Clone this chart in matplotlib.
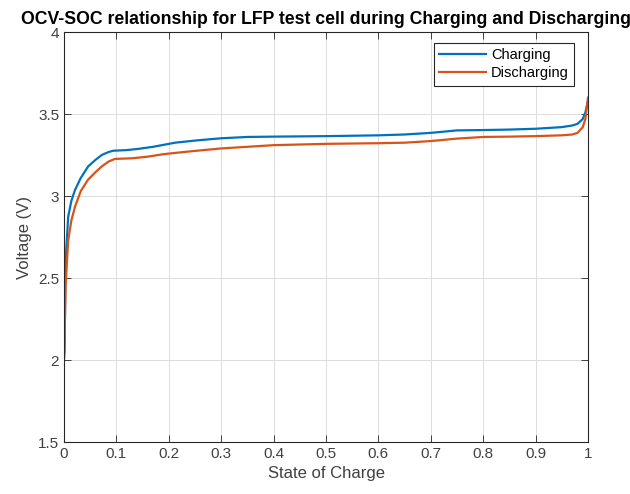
import matplotlib
matplotlib.use("Agg")
import matplotlib.pyplot as plt

plt.rcParams['font.family'] = ['Liberation Sans', 'DejaVu Sans']

soc_chg = [0.0, 0.001, 0.003, 0.008, 0.014, 0.021, 0.032, 0.046, 0.06, 0.072, 0.085, 0.094, 0.12, 0.141, 0.17,
           0.212, 0.25, 0.3, 0.35, 0.4, 0.5, 0.6, 0.65, 0.7, 0.75, 0.8, 0.85, 0.9, 0.95, 0.97, 0.98, 0.99, 0.995, 1.0]
v_chg = [2.0, 2.05, 2.6, 2.874, 2.97, 3.037, 3.11, 3.18, 3.22, 3.25, 3.268, 3.276, 3.28, 3.287, 3.30,
         3.325, 3.338, 3.352, 3.36, 3.362, 3.365, 3.37, 3.375, 3.385, 3.40, 3.402, 3.405, 3.41, 3.42, 3.43, 3.44, 3.47, 3.51, 3.58]

soc_dis = [0.0, 0.001, 0.003, 0.008, 0.014, 0.021, 0.032, 0.046, 0.06, 0.072, 0.085, 0.097, 0.13, 0.16, 0.19,
           0.21, 0.25, 0.3, 0.35, 0.4, 0.5, 0.6, 0.65, 0.7, 0.75, 0.8, 0.85, 0.9, 0.95, 0.97, 0.98, 0.99, 0.995, 1.0]
v_dis = [2.05, 2.1, 2.45, 2.73, 2.85, 2.935, 3.03, 3.10, 3.145, 3.18, 3.21, 3.226, 3.23, 3.24, 3.255,
         3.262, 3.275, 3.29, 3.30, 3.31, 3.318, 3.322, 3.325, 3.335, 3.35, 3.36, 3.362, 3.365, 3.37, 3.375, 3.385, 3.42, 3.47, 3.60]

x_ticks = [0, 0.1, 0.2, 0.3, 0.4, 0.5, 0.6, 0.7, 0.8, 0.9, 1]
x_labels = ['0', '0.1', '0.2', '0.3', '0.4', '0.5', '0.6', '0.7', '0.8', '0.9', '1']
y_ticks = [1.5, 2, 2.5, 3, 3.5, 4]
y_labels = ['1.5', '2', '2.5', '3', '3.5', '4']

fig = plt.figure(figsize=(6.3, 4.94), dpi=100)
ax = fig.add_axes([64/630, 1 - 442/494, 524/630, 410/494])

ax.plot(soc_chg, v_chg, color='#0072BD', lw=1.6, label='Charging')
ax.plot(soc_dis, v_dis, color='#D95319', lw=1.6, label='Discharging')

ax.set_xlim(0, 1)
ax.set_ylim(1.5, 4)
ax.set_xticks(x_ticks)
ax.set_xticklabels(x_labels)
ax.set_yticks(y_ticks)
ax.set_yticklabels(y_labels)
ax.tick_params(direction='in', length=5, colors='#262626', labelsize=11, top=True, right=True,
               labeltop=False, labelright=False, width=0.6)
for lab in ax.get_xticklabels() + ax.get_yticklabels():
    lab.set_color('#404040')
ax.grid(True, color='#dcdcdc', lw=0.7)
ax.set_axisbelow(True)
for s in ax.spines.values():
    s.set_color('#262626')
    s.set_linewidth(0.8)

ax.set_xlabel('State of Charge', fontsize=12, color='#404040')
ax.set_ylabel('Voltage (V)', fontsize=12, color='#404040')
ax.set_title('OCV-SOC relationship for LFP test cell during Charging and Discharging',
             fontsize=12.7, fontweight='bold', pad=6)

leg = ax.legend(loc='upper right', bbox_to_anchor=(1 - 14/524, 1 - 11/410), fontsize=10.5, fancybox=False,
                edgecolor='#262626', framealpha=1, handlelength=3.2, handletextpad=0.35,
                borderpad=0.35, labelspacing=0.3, borderaxespad=0)
leg.get_frame().set_linewidth(0.8)

fig.savefig('out.png', dpi=100)
